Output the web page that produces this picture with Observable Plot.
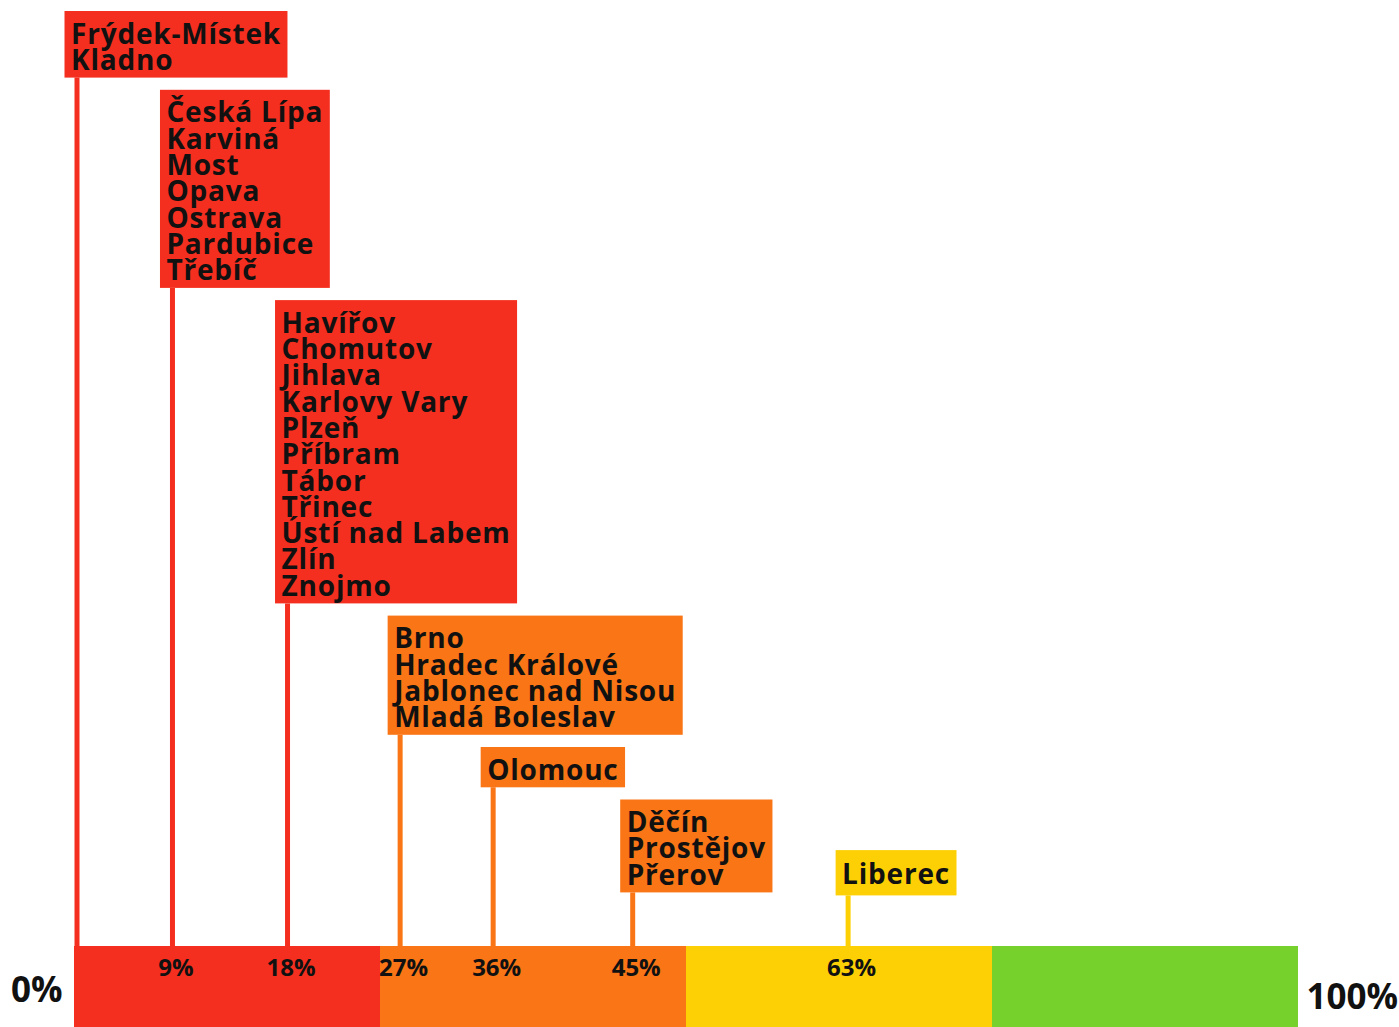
<!DOCTYPE html>
<html>
<head>
<meta charset="utf-8">
<script src="https://cdn.jsdelivr.net/npm/d3@7"></script>
<script src="https://cdn.jsdelivr.net/npm/@observablehq/plot@0.6"></script>
<style>
  html, body { margin: 0; padding: 0; background: #fff; }
  #chart svg { display: block; }
</style>
</head>
<body>
<div id="chart"></div>
<script>
// ---- data ----
const groupValues = [0, 7.8, 17.2, 26.4, 34.0, 45.4, 63.0];
const groupLabels = ["0%", "9%", "18%", "27%", "36%", "45%", "63%"];
const groupCities = [
  ["Frýdek-Místek", "Kladno"],
  ["Česká Lípa", "Karviná", "Most", "Opava", "Ostrava", "Pardubice", "Třebíč"],
  ["Havířov", "Chomutov", "Jihlava", "Karlovy Vary", "Plzeň", "Příbram", "Tábor", "Třinec", "Ústí nad Labem", "Zlín", "Znojmo"],
  ["Brno", "Hradec Králové", "Jablonec nad Nisou", "Mladá Boleslav"],
  ["Olomouc"],
  ["Děčín", "Prostějov", "Přerov"],
  ["Liberec"]
];
const bandStarts = [0, 25, 50, 75];
const bandEnds = [25, 50, 75, 100];
const bandColors = ["#f42f1f", "#f97516", "#fdd005", "#77d12d"];
const endValues = [0, 100];
const endLabels = ["0%", "100%"];

// ---- layout ----
const W = 1399, H = 1027;
const ML = 74, MR = 101;
const K = (W - ML - MR) / 100;       // px per percent
const BAR_TOP = 946;
const FONT = 28, LINE = 26.3, LS = 0.8;
const FAMILY = "'Open Sans', 'Noto Sans', sans-serif";
const CAP_OFF = 13.5, BOX_EXTRA = 14, GAP = 12.2, TOP0 = 11;

const ctx = document.createElement("canvas").getContext("2d");
ctx.font = `700 ${FONT}px "Open Sans"`;
const measure = s => ctx.measureText(s).width + LS * [...s].length;

const bands = bandStarts.map((s, i) => ({x1: s, x2: bandEnds[i], y1: BAR_TOP, y2: H, fill: bandColors[i]}));

const groups = [];
let prevBottom = null;
groupValues.forEach((v, i) => {
  const cities = groupCities[i];
  const n = cities.length;
  const w = d3.max(cities, measure);
  const last = i === groupValues.length - 1;
  const h = BOX_EXTRA + LINE * n + (last ? 5 : 0);
  let top, bottom;
  if (i === 0) { top = TOP0; bottom = top + h; }
  else if (last) { bottom = prevBottom + 3; top = bottom - h; }
  else { top = prevBottom + GAP; bottom = top + h; }
  prevBottom = bottom;
  const bi = bandStarts.findLastIndex(s => v >= s);
  groups.push({
    value: v,
    label: groupLabels[i],
    text: cities.join("\n"),
    color: bandColors[bi],
    top, bottom,
    textTop: top + CAP_OFF + (last ? 1 : 0),
    x2: v + (w + 13) / K,
    barTop: BAR_TOP,
    labelY: 968
  });
});

const ends = endValues.map((v, i) => ({value: v, label: endLabels[i], y: i === 0 ? 990 : 997}));

const plot = Plot.plot({
  width: W,
  height: H,
  marginLeft: ML,
  marginRight: MR,
  marginTop: 0,
  marginBottom: 0,
  style: {fontFamily: FAMILY, background: "#fff"},
  x: {domain: [0, 100], axis: null},
  y: {domain: [0, H], range: [0, H], axis: null},
  marks: [
    Plot.rect(bands, {x1: "x1", x2: "x2", y1: "y1", y2: "y2", fill: "fill"}),
    Plot.ruleX(groups, {x: "value", y1: "bottom", y2: "barTop", stroke: "color", strokeWidth: 5, dx: 2.5}),
    Plot.rect(groups, {x1: "value", x2: "x2", y1: "top", y2: "bottom", fill: "color", dx: -9.5}),
    Plot.text(groups, {
      x: "value", y: "textTop", text: "text",
      textAnchor: "start", lineAnchor: "top", lineHeight: LINE / FONT,
      fontSize: FONT, fontWeight: 700, fill: "#111", dx: -3.5, fontFamily: FAMILY
    }),
    Plot.text(groups.filter(d => d.value > 0), {
      x: "value", y: "labelY", text: "label",
      fontSize: 24, fontWeight: 700, fill: "#111", dx: 6, fontFamily: FAMILY
    }),
    Plot.text(ends.filter(d => d.value === 0), {
      x: "value", y: "y", text: "label", textAnchor: "end",
      fontSize: 35, fontWeight: 700, fill: "#111", dx: -12, fontFamily: FAMILY
    }),
    Plot.text(ends.filter(d => d.value === 100), {
      x: "value", y: "y", text: "label", textAnchor: "start",
      fontSize: 35, fontWeight: 700, fill: "#111", dx: 8, fontFamily: FAMILY
    })
  ]
});
// letter spacing only for the city-name boxes
plot.querySelectorAll('g[aria-label="text"]')[0].setAttribute("letter-spacing", LS);
document.getElementById("chart").appendChild(plot);
</script>
</body>
</html>
